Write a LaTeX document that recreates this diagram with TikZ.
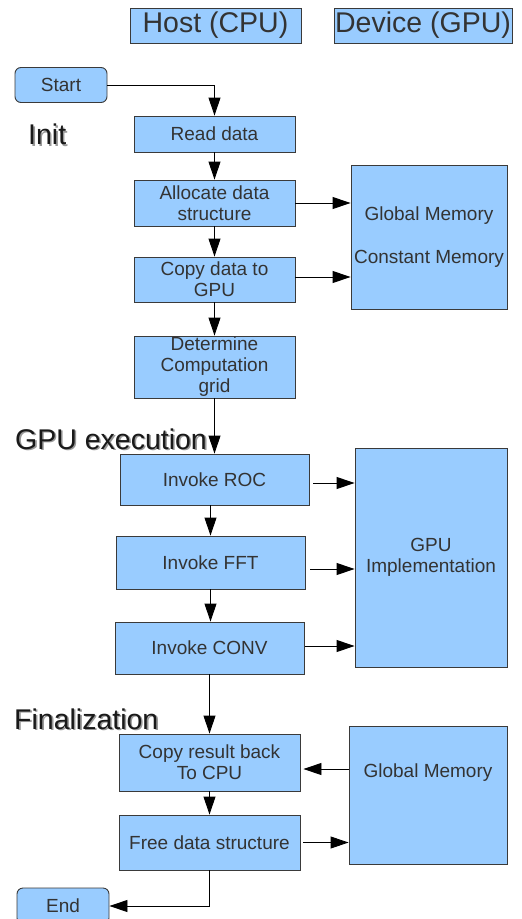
\documentclass[tikz,border=0pt]{standalone}
\usepackage{fontspec}
\setmainfont{Liberation Sans}
\usetikzlibrary{arrows.meta}
\definecolor{boxfill}{HTML}{99CCFF}
\definecolor{boxtext}{HTML}{333333}
\definecolor{boxline}{HTML}{3A3A3A}
% text with a soft grey drop shadow
\newcommand\shadowed[1]{\rlap{\hspace{1.6pt}\raisebox{-1.6pt}{\textcolor{black!40}{#1}}}#1}
\begin{document}
\begin{tikzpicture}[x=1pt,y=-1pt,
  box/.style={draw=boxline, fill=boxfill, line width=0.9pt, text=boxtext,
    inner sep=0pt, align=center, font=\fontsize{19}{21}\selectfont},
  term/.style={box, rounded corners=6pt},
  head/.style={box, font=\fontsize{28.5}{32}\selectfont},
  sect/.style={inner sep=0pt, anchor=west, text=black!90, font=\fontsize{28.5}{31}\selectfont},
  boxlabel/.style={text=boxtext, inner sep=0pt, font=\fontsize{19}{21}\selectfont},
  arr/.style={draw=black, line width=0.9pt, -{Triangle[length=18pt,width=12pt]}}]
\useasboundingbox (0,0) rectangle (522,919);
\clip (0,0) rectangle (522,919);

% column headers
\node[head, minimum width=171pt, minimum height=35pt] (host) at (215.5,25.5) {Host (CPU)};
\node[head, minimum width=178pt, minimum height=35pt] (dev) at (423,25.5) {Device (GPU)};

% section titles
\node[sect] (init) at (28,135) {\shadowed{Init}};
\node[sect] (gexec) at (15,440) {\shadowed{GPU execution}};
\node[sect] (fin) at (14,720) {\shadowed{Finalization}};

% host side
\node[term, minimum width=92pt, minimum height=35pt] (start) at (61,85) {Start};
\node[box, minimum width=161pt, minimum height=36pt] (read) at (214.5,134) {Read data};
\node[box, minimum width=161pt, minimum height=46pt] (alloc) at (214.5,203) {Allocate data\\structure};
\node[box, minimum width=161pt, minimum height=45pt] (copy) at (214.5,279.5) {Copy data to\\GPU};
\node[box, minimum width=161pt, minimum height=62pt] (det) at (214.5,367) {Determine\\Computation\\grid};
\node[box, minimum width=189pt, minimum height=51pt] (roc) at (214.5,479.5) {Invoke ROC};
\node[box, minimum width=189pt, minimum height=53pt] (fft) at (210.5,562.5) {Invoke FFT};
\node[box, minimum width=189pt, minimum height=52pt] (conv) at (209.5,648) {Invoke CONV};
\node[box, minimum width=181pt, minimum height=57pt] (res) at (209.5,762.5) {Copy result back\\To CPU};
\node[box, minimum width=181pt, minimum height=55pt] (free) at (209.5,842.5) {Free data structure};
\node[term, minimum width=92pt, minimum height=36pt] (end) at (63,906) {End};

% device side
\node[box, minimum width=156pt, minimum height=144pt] (mem1) at (429,237) {Global Memory\\[22pt]Constant Memory};
\node[box, minimum width=152pt, minimum height=219pt] (gpu) at (431,557.5) {GPU\\Implementation};
\node[box, minimum width=158pt, minimum height=138pt,
  label={[boxlabel, yshift=22pt]center:Global Memory}] (mem2) at (428,795) {};

% control flow
\draw[arr] (start.east) -| (read.north);
\draw[arr] (read) -- (alloc);
\draw[arr] (alloc) -- (copy);
\draw[arr] (copy) -- (det);
\draw[arr] (det) -- (roc);
\draw[arr] (roc.south -| fft.north) -- (fft.north);
\draw[arr] (fft.south) -- (fft.south |- conv.north);
\draw[arr] (conv) -- (res);
\draw[arr] (res) -- (free);
\draw[arr] (free.south) |- (end.east);

% host <-> device transfers
\draw[arr] (alloc.east) -- (alloc.east -| mem1.west);
\draw[arr] ([yshift=2.5pt]copy.east) -- ([yshift=2.5pt]copy.east -| mem1.west);
\draw[arr] ([xshift=4pt,yshift=-3.5pt]roc.east) -- ([yshift=-3.5pt]roc.east -| gpu.west);
\draw[arr] ([xshift=5pt,yshift=-6.5pt]fft.east) -- ([yshift=-6.5pt]fft.east -| gpu.west);
\draw[arr] ([xshift=1pt,yshift=2pt]conv.east) -- ([yshift=2pt]conv.east -| gpu.west);
\draw[arr] ([yshift=-6.5pt]res.east -| mem2.west) -- ([xshift=3pt,yshift=-6.5pt]res.east);
\draw[arr] ([xshift=3pt]free.east) -- (free.east -| mem2.west);
\end{tikzpicture}
\end{document}
